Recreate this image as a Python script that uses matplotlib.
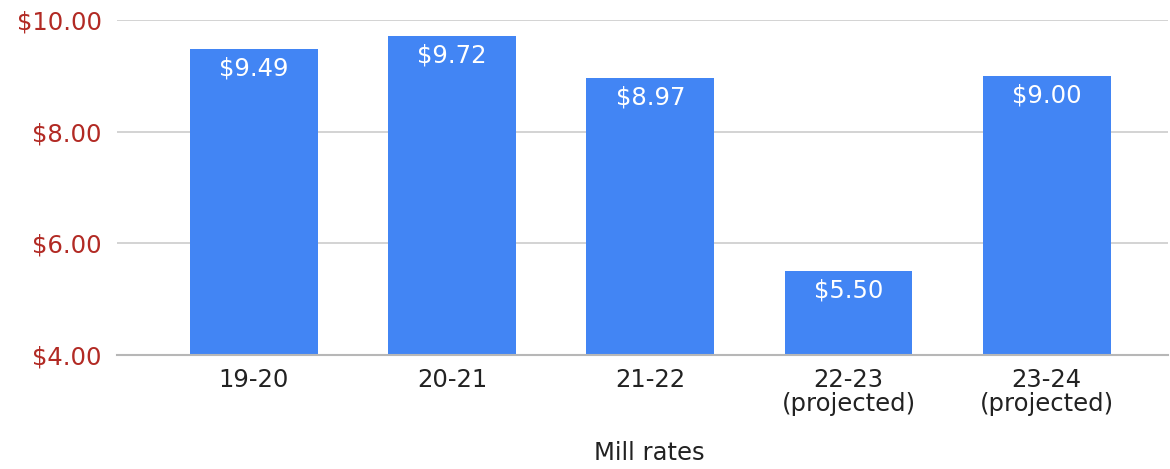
#!/usr/bin/env python3
"""Mill rates bar chart."""

import matplotlib
matplotlib.use("Agg")
import matplotlib.pyplot as plt
from matplotlib.ticker import FuncFormatter

# Data
categories = ["19-20", "20-21", "21-22", "22-23\n(projected)", "23-24\n(projected)"]
mill_rates = [9.49, 9.72, 8.97, 5.50, 9.00]
y_ticks = [4, 6, 8, 10]

BAR_COLOR = "#4285f4"
TICK_COLOR = "#b22a24"
FS = 17.5

plt.rcParams["font.family"] = ["DejaVu Sans"]

fig = plt.figure(figsize=(11.7, 4.69), dpi=100)
ax = fig.add_axes([0.1, 0.243, 0.898, 0.714])

x = list(range(len(categories)))
bars = ax.bar(x, mill_rates, width=0.645, bottom=0, color=BAR_COLOR, zorder=3)

# Labels inside the bars
for rect, val in zip(bars, mill_rates):
    ax.annotate(
        f"${val:.2f}",
        xy=(rect.get_x() + rect.get_width() / 2, val),
        xytext=(0, -14),
        textcoords="offset points",
        ha="center",
        va="center",
        color="white",
        fontsize=FS,
        zorder=4,
    )

ax.set_ylim(4, 10)
ax.set_xlim(-0.69, 4.61)
ax.set_yticks(y_ticks)
ax.yaxis.set_major_formatter(FuncFormatter(lambda v, _: f"${v:.2f}"))
ax.set_xticks(x)
ax.set_xticklabels(categories, linespacing=1.0)

ax.tick_params(axis="y", colors=TICK_COLOR, labelsize=FS, length=0, pad=11)
ax.tick_params(axis="x", colors="#222222", labelsize=FS, length=0, pad=9)

ax.grid(axis="y", color="#cccccc", linewidth=1.2, zorder=0)
for side in ["top", "right", "left"]:
    ax.spines[side].set_visible(False)
ax.spines["bottom"].set_color("#b7b7b7")
ax.spines["bottom"].set_linewidth(1.5)
ax.spines["bottom"].set_zorder(5)

fig.text(0.555, 0.008, "Mill rates", ha="center", va="bottom", fontsize=FS, color="#222222")

fig.savefig("out.png", dpi=100)
